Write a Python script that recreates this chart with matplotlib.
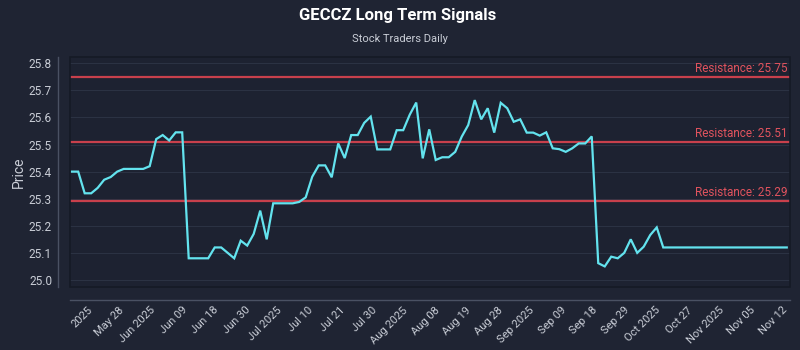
#!/usr/bin/env python3
"""Long term signal chart for GECCZ with resistance levels."""

import numpy as np
import matplotlib

matplotlib.use("Agg")
import matplotlib.pyplot as plt
from matplotlib.patches import Rectangle
from matplotlib.transforms import blended_transform_factory

TICKER = "GECCZ"
SOURCE = "Stock Traders Daily"

PRICES = [
    25.40, 25.40, 25.32, 25.32, 25.34, 25.37, 25.38, 25.40, 25.41, 25.41,
    25.41, 25.41, 25.42, 25.52, 25.535, 25.515, 25.545, 25.545, 25.08, 25.08,
    25.08, 25.08, 25.12, 25.12, 25.10, 25.08, 25.145, 25.127, 25.17, 25.256,
    25.15, 25.283, 25.283, 25.283, 25.283, 25.288, 25.305, 25.381, 25.423, 25.423,
    25.379, 25.504, 25.45, 25.535, 25.535, 25.58, 25.603, 25.482, 25.482, 25.482,
    25.553, 25.553, 25.61, 25.655, 25.449, 25.556, 25.443, 25.453, 25.453, 25.473,
    25.529, 25.572, 25.664, 25.593, 25.634, 25.544, 25.654, 25.634, 25.584, 25.593,
    25.544, 25.544, 25.533, 25.545, 25.486, 25.483, 25.473, 25.486, 25.504, 25.504,
    25.53, 25.062, 25.05, 25.086, 25.08, 25.10, 25.15, 25.10, 25.123, 25.166,
    25.194, 25.12, 25.12, 25.12, 25.12, 25.12, 25.12, 25.12, 25.12, 25.12,
    25.12, 25.12, 25.12, 25.12, 25.12, 25.12, 25.12, 25.12, 25.12, 25.12,
    25.12,
]

RESISTANCE = [25.75, 25.51, 25.29]

TICK_LABELS = [
    "2025", "May 28", "Jun 2025", "Jun 09", "Jun 18", "Jun 30", "Jul 2025",
    "Jul 10", "Jul 21", "Jul 30", "Aug 2025", "Aug 08", "Aug 19", "Aug 28",
    "Sep 2025", "Sep 09", "Sep 18", "Sep 29", "Oct 2025", "Oct 27",
    "Nov 2025", "Nov 05", "Nov 12",
]

Y_TICKS = [25.0, 25.1, 25.2, 25.3, 25.4, 25.5, 25.6, 25.7, 25.8]

FIG_BG = "#1f2433"
AX_BG = "#1d2231"
TEXT = "#c9cdd6"
LINE = "#63e3ee"
RES_LINE = "#c8404c"
RES_TEXT = "#e0535e"


def main() -> None:
    plt.rcParams["font.family"] = ["Roboto", "DejaVu Sans"]

    prices = np.array(PRICES)
    x = np.arange(len(prices))

    fig = plt.figure(figsize=(8, 3.5), dpi=100, facecolor=FIG_BG)
    ax = fig.add_axes([0.0875, 0.18, 0.9, 0.657], facecolor=AX_BG)

    # spines first: moving them resets the tick objects
    for side in ("top", "right"):
        ax.spines[side].set_visible(False)
    for side in ("left", "bottom"):
        ax.spines[side].set_position(("outward", 9))
        ax.spines[side].set_color("#4a5163")
        ax.spines[side].set_linewidth(1.0)
    ax.add_patch(Rectangle((0, 0), 1, 1, transform=ax.transAxes, fill=False,
                           edgecolor="#151a25", linewidth=1.2, zorder=4, clip_on=False))

    ax.plot(x, prices, color=LINE, linewidth=1.6, zorder=3, solid_joinstyle="miter")

    label_tf = blended_transform_factory(ax.transAxes, ax.transData)
    for level in RESISTANCE:
        ax.axhline(level, color=RES_LINE, linewidth=1.6, zorder=2)
        ax.annotate(
            f"Resistance: {level:.2f}",
            xy=(0.997, level),
            xycoords=label_tf,
            xytext=(0, 1.5),
            textcoords="offset points",
            ha="right",
            va="bottom",
            color=RES_TEXT,
            fontsize=8.5,
        )

    ax.set_xlim(-0.26, len(prices) - 0.5)
    ax.set_ylim(24.974, 25.823)

    ax.grid(axis="y", color="#2b3243", linewidth=0.8)
    ax.set_axisbelow(True)
    ax.tick_params(axis="both", length=0, colors=TEXT)
    ax.tick_params(axis="y", pad=4, labelsize=8.5)
    ax.tick_params(axis="x", pad=4, labelrotation=45, labelsize=8)

    ax.set_yticks(Y_TICKS)
    ax.set_yticklabels([f"{v:.1f}" for v in Y_TICKS])
    tick_pos = np.linspace(2.4, len(prices) - 1.8, len(TICK_LABELS))
    ax.set_xticks(tick_pos)
    ax.set_xticklabels(TICK_LABELS)
    plt.setp(ax.get_xticklabels(), ha="right", rotation_mode="anchor")

    ax.set_ylabel("Price", color=TEXT, fontsize=10, labelpad=2)

    fig.text(0.497, 0.955, f"{TICKER} Long Term Signals", ha="center", va="center",
             color="white", fontsize=12, fontweight="bold")
    fig.text(0.5, 0.89, SOURCE, ha="center", va="center", color=TEXT, fontsize=8)

    fig.savefig("out.png", dpi=100, facecolor=FIG_BG)
    plt.close(fig)


if __name__ == "__main__":
    main()
